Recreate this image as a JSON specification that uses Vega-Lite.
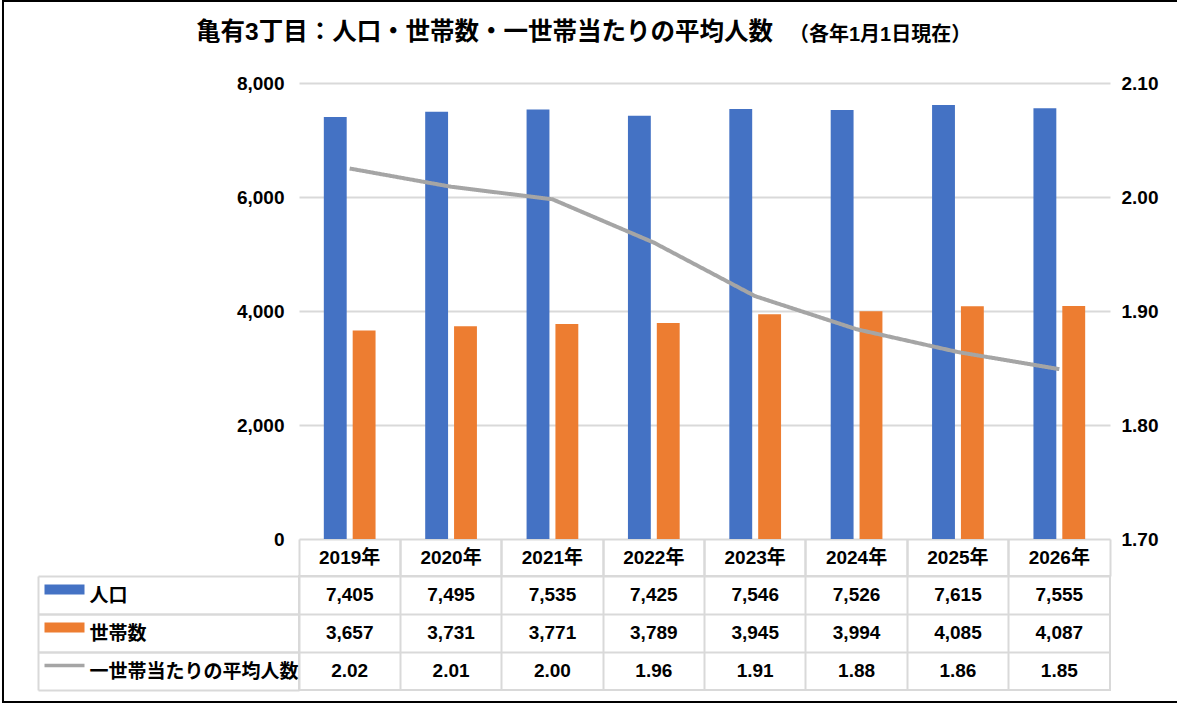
{
  "$schema": "https://vega.github.io/schema/vega-lite/v6.json",
  "autosize": {"type": "pad"},
  "padding": {"left": 36, "right": 20, "top": 0, "bottom": 0},
  "background": "white",
  "config": {
    "font": "Liberation Sans, Noto Sans CJK JP",
    "view": {"stroke": null},
    "axis": {"labelFont": "Liberation Sans, Noto Sans CJK JP", "labelColor": "#000000", "labelFontWeight": "bold", "labelFontSize": 19},
    "title": {"font": "Liberation Sans, Noto Sans CJK JP", "color": "#000000", "fontWeight": "bold"}
  },
  "data": {"values": [
    {"year": "2019年", "人口": 7405, "世帯数": 3657, "一世帯当たりの平均人数": 2.025},
    {"year": "2020年", "人口": 7495, "世帯数": 3731, "一世帯当たりの平均人数": 2.009},
    {"year": "2021年", "人口": 7535, "世帯数": 3771, "一世帯当たりの平均人数": 1.998},
    {"year": "2022年", "人口": 7425, "世帯数": 3789, "一世帯当たりの平均人数": 1.960},
    {"year": "2023年", "人口": 7546, "世帯数": 3945, "一世帯当たりの平均人数": 1.913},
    {"year": "2024年", "人口": 7526, "世帯数": 3994, "一世帯当たりの平均人数": 1.884},
    {"year": "2025年", "人口": 7615, "世帯数": 4085, "一世帯当たりの平均人数": 1.864},
    {"year": "2026年", "人口": 7555, "世帯数": 4087, "一世帯当たりの平均人数": 1.849}
  ]},
  "bounds": "flush",
  "spacing": 37,
  "vconcat": [
    {
      "width": 811,
      "height": 456,
      "title": {"text": "亀有3丁目：人口・世帯数・一世帯当たりの平均人数", "anchor": "start", "frame": "group", "dx": -103, "offset": 9.5, "baseline": "alphabetic", "fontSize": 24.5},
      "layer": [
        {
          "transform": [{"fold": ["人口", "世帯数"], "as": ["系列", "値"]}],
          "mark": {"type": "bar"},
          "encoding": {
            "x": {"field": "year", "type": "nominal",
              "scale": {"type": "band", "paddingInner": 0, "paddingOuter": 0},
              "axis": {"orient": "bottom", "title": null, "bandPosition": 0, "domain": false, "grid": false, "ticks": true, "tickSize": 37, "tickColor": "#D9D9D9", "tickWidth": 2, "labelAngle": 0, "labelAlign": "center", "labelPadding": -18.5, "labelBaseline": "middle"}},
            "xOffset": {"field": "系列", "type": "nominal", "scale": {"domain": ["人口", "世帯数"], "paddingInner": 0.2076, "paddingOuter": 0.86}},
            "y": {"field": "値", "type": "quantitative", "scale": {"domain": [0, 8000], "nice": false},
              "axis": {"title": null, "values": [0, 2000, 4000, 6000, 8000], "format": ",d", "domain": false, "ticks": false, "grid": true, "gridColor": "#D9D9D9", "gridWidth": 2, "labelPadding": 15}},
            "color": {"field": "系列", "type": "nominal", "scale": {"domain": ["人口", "世帯数"], "range": ["#4472C4", "#ED7D31"]}, "legend": null}
          }
        },
        {
          "mark": {"type": "line", "color": "#A5A5A5", "strokeWidth": 4},
          "encoding": {
            "x": {"field": "year", "type": "nominal",
              "axis": {"orient": "bottom", "title": null, "bandPosition": 1, "domain": false, "grid": false, "ticks": true, "tickSize": 37, "tickColor": "#D9D9D9", "tickWidth": 2, "labels": false}},
            "y": {"field": "一世帯当たりの平均人数", "type": "quantitative", "scale": {"domain": [1.7, 2.1], "nice": false, "zero": false},
              "axis": {"orient": "right", "title": null, "values": [1.7, 1.8, 1.9, 2.0, 2.1], "format": ".2f", "domain": false, "ticks": false, "grid": false, "labelPadding": 11}},
            "strokeDash": {"datum": " ", "type": "nominal",
              "legend": {"orient": "none", "legendX": -60, "legendY": -83, "title": null, "padding": 0, "offset": 0,
                "symbolType": "M-1.6762,-1H1.6762V1H-1.6762Z", "symbolSize": 491401, "symbolStrokeColor": "#000000", "symbolStrokeWidth": 2, "symbolFillColor": "transparent", "symbolDash": [1, 0], "symbolOpacity": 1,
                "labelOpacity": 0, "labelOffset": -400, "labelFontSize": 1}}
          }
        }
      ],
      "resolve": {"scale": {"y": "independent"}, "axis": {"x": "independent", "y": "independent"}}
    },
    {
      "width": 811,
      "height": 114,
      "view": {"stroke": "#D9D9D9", "strokeWidth": 2},
      "title": {"text": "（各年1月1日現在）", "anchor": "start", "frame": "group", "dx": 490, "offset": 514, "baseline": "alphabetic", "fontSize": 20},
      "transform": [{"fold": ["人口", "世帯数", "一世帯当たりの平均人数"], "as": ["系列", "値"]}],
      "layer": [
        {
          "transform": [{"filter": "datum['系列'] === '人口'"}],
          "mark": {"type": "text", "fontSize": 19, "fontWeight": "bold", "color": "#000000", "baseline": "middle"},
          "encoding": {
            "x": {"field": "year", "type": "nominal", "scale": {"type": "band", "paddingInner": 0, "paddingOuter": 0},
              "axis": {"orient": "bottom", "title": null, "bandPosition": 0, "labels": false, "ticks": false, "domain": false, "grid": true, "gridColor": "#D9D9D9", "gridWidth": 2}},
            "y": {"field": "系列", "type": "nominal", "scale": {"type": "band", "domain": ["人口", "世帯数", "一世帯当たりの平均人数"], "paddingInner": 0, "paddingOuter": 0},
              "axis": {"orient": "left", "title": null, "offset": 215, "domain": false, "grid": false, "ticks": true, "tickSize": 40,
                "tickWidth": {"condition": {"test": "datum.value === '一世帯当たりの平均人数'", "value": 3.5}, "value": 10},
                "tickColor": {"condition": [{"test": "datum.value === '人口'", "value": "#4472C4"}, {"test": "datum.value === '世帯数'", "value": "#ED7D31"}], "value": "#A5A5A5"},
                "tickOffset": -6, "labelOffset": 6, "labelAlign": "left", "labelPadding": -45, "labelBaseline": "middle", "labelLimit": 320}},
            "text": {"field": "値", "type": "quantitative", "format": ",d"}
          }
        },
        {
          "transform": [{"filter": "datum['系列'] === '世帯数'"}],
          "mark": {"type": "text", "fontSize": 19, "fontWeight": "bold", "color": "#000000", "baseline": "middle"},
          "encoding": {
            "x": {"field": "year", "type": "nominal", "scale": {"type": "band", "paddingInner": 0, "paddingOuter": 0},
              "axis": {"orient": "bottom", "title": null, "bandPosition": 0, "labels": false, "ticks": false, "domain": false, "grid": true, "gridColor": "#D9D9D9", "gridWidth": 2}},
            "y": {"field": "系列", "type": "nominal", "scale": {"type": "band", "domain": ["人口", "世帯数", "一世帯当たりの平均人数"], "paddingInner": 0, "paddingOuter": 0},
              "axis": {"orient": "left", "title": null, "offset": 261, "domain": false, "grid": false, "labels": false, "ticks": true, "bandPosition": 1, "tickSize": -261, "tickColor": "#D9D9D9", "tickWidth": 2}},
            "text": {"field": "値", "type": "quantitative", "format": ",d"}
          }
        },
        {
          "transform": [{"filter": "datum['系列'] === '一世帯当たりの平均人数'"}],
          "mark": {"type": "text", "fontSize": 19, "fontWeight": "bold", "color": "#000000", "baseline": "middle"},
          "encoding": {
            "x": {"field": "year", "type": "nominal", "scale": {"type": "band", "paddingInner": 0, "paddingOuter": 0},
              "axis": {"orient": "bottom", "title": null, "bandPosition": 0, "labels": false, "ticks": false, "domain": false, "grid": true, "gridColor": "#D9D9D9", "gridWidth": 2}},
            "y": {"field": "系列", "type": "nominal", "scale": {"type": "band", "domain": ["人口", "世帯数", "一世帯当たりの平均人数"], "paddingInner": 0, "paddingOuter": 0},
              "axis": {"orient": "left", "title": null, "offset": 261, "domain": true, "domainColor": "#D9D9D9", "domainWidth": 2, "grid": true, "gridColor": "#D9D9D9", "gridWidth": 2, "labels": false, "ticks": true, "bandPosition": 0, "tickSize": -261, "tickColor": "#D9D9D9", "tickWidth": 2}},
            "text": {"field": "値", "type": "quantitative", "format": ".2f"}
          }
        }
      ],
      "resolve": {"axis": {"y": "independent"}}
    }
  ]
}
